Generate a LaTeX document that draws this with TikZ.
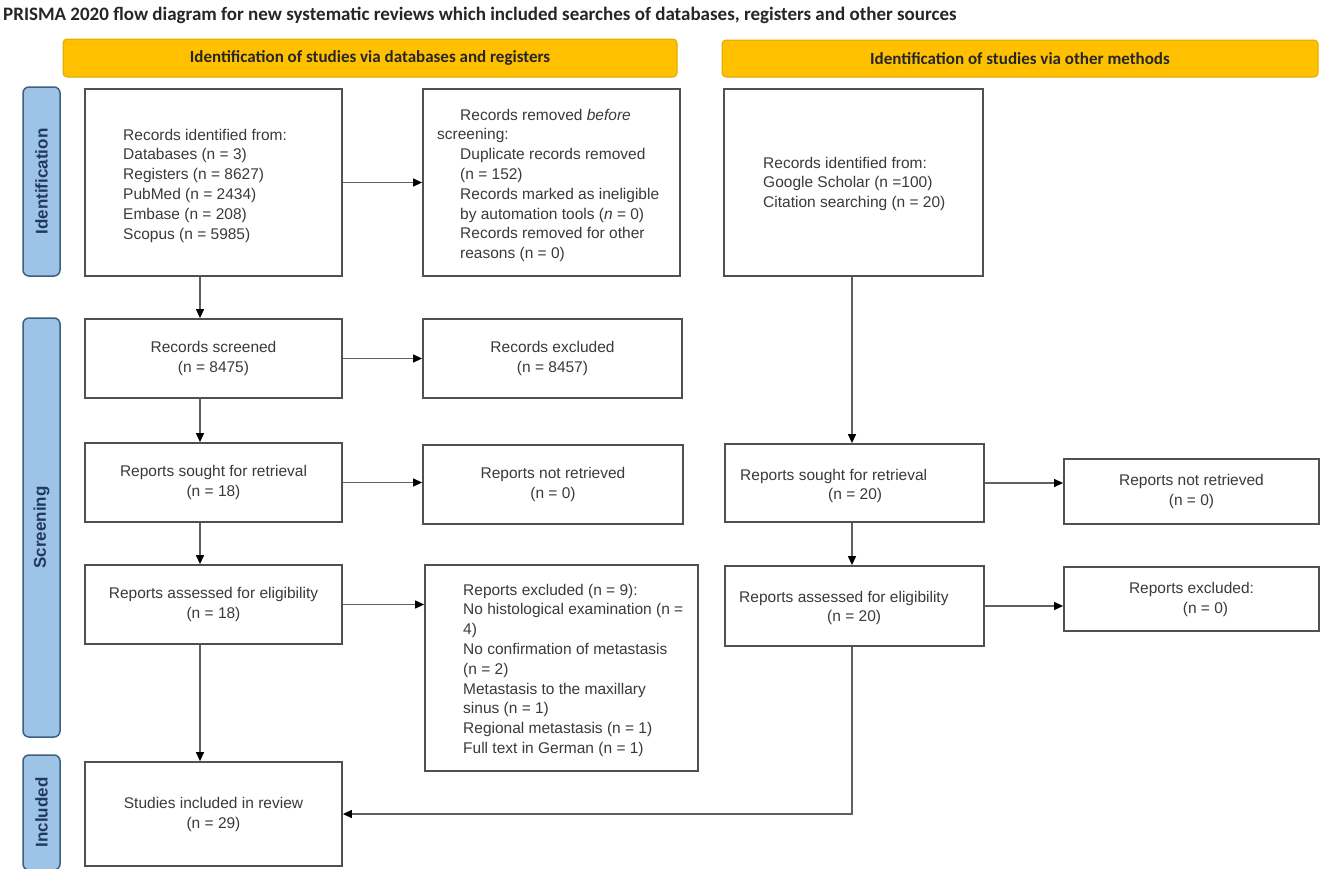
\documentclass[tikz,border=0pt]{standalone}
\usepackage{fontspec}
\setmainfont{Liberation Sans}
\newfontfamily\carlito{Carlito}
\usetikzlibrary{arrows.meta}
\definecolor{boxc}{HTML}{505050}
\definecolor{txtc}{HTML}{3A3A3A}
\definecolor{linec}{HTML}{606060}
\definecolor{hdrfill}{HTML}{FFC000}
\definecolor{hdrdraw}{HTML}{E0A800}
\definecolor{sidefill}{HTML}{9DC3E6}
\definecolor{sidedraw}{HTML}{3F5F7F}
\definecolor{sidetext}{HTML}{1F3864}
\tikzset{
  fbox/.style={draw=boxc, line width=1.8pt, fill=white, inner sep=0pt, rectangle,
    align=center, text=txtc, font=\fontsize{15.5}{20}\selectfont},
  txt/.style={inner sep=0pt, align=left, text=txtc, font=\fontsize{15.5}{19.8}\selectfont, anchor=north west},
  hdr/.style={draw=hdrdraw, fill=hdrfill, line width=1pt, rounded corners=4pt, inner sep=0pt,
    font=\carlito\bfseries\fontsize{17}{20}\selectfont, text=black!85},
  side/.style={draw=sidedraw, fill=sidefill, line width=1.5pt, rounded corners=6pt, inner sep=0pt,
    minimum width=37pt, font=\bfseries\fontsize{17}{20}\selectfont, text=sidetext},
  arr/.style={draw=linec, line width=1.2pt, -{Triangle[length=9pt,width=8pt,color=black]}}
}
\begin{document}
\begin{tikzpicture}[x=1pt,y=-1pt]
\clip (0,0) rectangle (1323,868);
\fill[white] (0,0) rectangle (1323,868);

% title
\node[anchor=base west, inner sep=0pt, font=\carlito\bfseries\fontsize{19}{22}\selectfont, text=black!85] (title) at (3,20)
  {PRISMA 2020 flow diagram for new systematic reviews which included searches of databases, registers and other sources};

% headers
\node[hdr, minimum width=614pt, minimum height=38pt] (h1) at (370,58) {Identification of studies via databases and registers};
\node[hdr, minimum width=596pt, minimum height=37pt] (h2) at (1020,58.5) {Identification of studies via other methods};

% side bars
\node[side, minimum height=189pt] (s1) at (41.5,181.5) {\rotatebox{90}{Identification}};
\node[side, minimum height=419pt] (s2) at (41.5,527.5) {\rotatebox{90}{Screening}};
\node[side, minimum height=115pt] (s3) at (41.5,812.5) {\rotatebox{90}{Included}};

% boxes
\node[fbox, minimum width=257pt, minimum height=187pt] (b1) at (213.5,182.5) {};
\node[fbox, minimum width=257pt, minimum height=187pt] (b2) at (551.5,182.5) {};
\node[fbox, minimum width=259pt, minimum height=187pt] (b3) at (853.5,182.5) {};
\node[fbox, minimum width=257pt, minimum height=79pt] (b4) at (213.5,358.5) {Records screened\\(n = 8475)};
\node[fbox, minimum width=259pt, minimum height=79pt] (b5) at (552.5,358.5) {Records excluded\\(n = 8457)};
\node[fbox, minimum width=257pt, minimum height=79pt] (b6) at (213.5,482.5) {Reports sought for retrieval\\(n = 18)};
\node[fbox, minimum width=260pt, minimum height=79pt] (b7) at (553,484.5) {Reports not retrieved\\(n = 0)};
\node[fbox, minimum width=257pt, minimum height=79pt] (b8) at (213.5,604.5) {Reports assessed for eligibility\\(n = 18)};
\node[fbox, minimum width=273pt, minimum height=206pt] (b9) at (561.5,668) {};
\node[fbox, minimum width=257pt, minimum height=104pt] (b10) at (213.5,814) {Studies included in review\\(n = 29)};
\node[fbox, minimum width=259pt, minimum height=78pt] (r1) at (854.5,483) {};
\node[fbox, minimum width=255pt, minimum height=65pt] (r2) at (1191.5,491.5) {Reports not retrieved\\(n = 0)};
\node[fbox, minimum width=259pt, minimum height=80pt] (r3) at (854.5,606) {};
\node[fbox, minimum width=255pt, minimum height=64pt] (r4) at (1191.5,599) {Reports excluded:\\\hspace*{28pt}(n = 0)};

% texts
\node[txt] (t1) at (123,126) {\strut Records identified from:\\Databases (n = 3)\\Registers (n = 8627)\\PubMed (n = 2434)\\Embase (n = 208)\\Scopus (n = 5985)};
\node[txt] (t2) at (437,106) {\strut\hspace*{23pt}Records removed \textit{before}\\screening:\\\hspace*{23pt}Duplicate records removed\\\hspace*{23pt}(n = 152)\\\hspace*{23pt}Records marked as ineligible\\\hspace*{23pt}by automation tools (\textit{n} = 0)\\\hspace*{23pt}Records removed for other\\\hspace*{23pt}reasons (n = 0)};
\node[txt] (t3) at (763,154) {\strut Records identified from:\\Google Scholar (n =100)\\Citation searching (n = 20)};
\node[txt] (t9) at (463,581) {\strut Reports excluded (n = 9):\\No histological examination (n =\\4)\\No confirmation of metastasis\\(n = 2)\\Metastasis to the maxillary\\sinus (n = 1)\\Regional metastasis (n = 1)\\Full text in German (n = 1)};
\node[txt] (tr1) at (740,466) {\strut Reports sought for retrieval\\\hspace*{88pt}(n = 20)};
\node[txt] (tr3) at (739,588) {\strut Reports assessed for eligibility\\\hspace*{88pt}(n = 20)};

% connector guides
\coordinate (cl) at (200,0);
\coordinate (cr) at (852,0);

% arrows
\draw[arr] (b1.east) -- (b2.west);
\draw[arr] (b1.south -| cl) -- (b4.north -| cl);
\draw[arr] (b4.east) -- (b5.west);
\draw[arr] (b4.south -| cl) -- (b6.north -| cl);
\draw[arr] (b6.east) -- (b7.west |- b6.east);
\draw[arr] (b6.south -| cl) -- (b8.north -| cl);
\draw[arr] (b8.east) -- (b9.west |- b8.east);
\draw[arr] (b8.south -| cl) -- (b10.north -| cl);
\draw[arr] (b3.south -| cr) -- (r1.north -| cr);
\draw[arr] (r1.east) -- (r2.west |- r1.east);
\draw[arr] (r1.south -| cr) -- (r3.north -| cr);
\draw[arr] (r3.east) -- (r4.west |- r3.east);
\draw[arr] (r3.south -| cr) |- (b10.east);
\end{tikzpicture}
\end{document}
